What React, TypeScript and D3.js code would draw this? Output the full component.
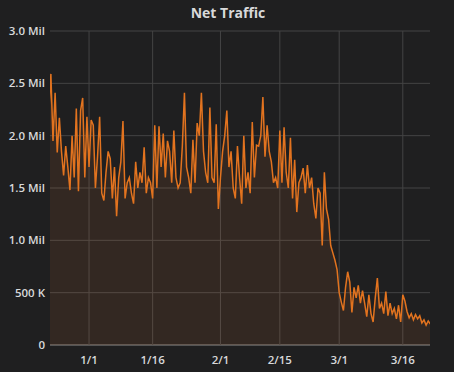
import React, { useEffect, useRef } from 'react';
import * as d3 from 'd3';

// net traffic samples, 12h apart, one array per half month
const decValues = [2.2, 2.59, 1.95, 2.41, 1.84, 2.17, 1.85, 1.62, 1.9, 1.7, 1.48, 2.0, 1.6, 2.26, 1.47, 2.24, 2.36, 1.6, 2.18];
const janAValues = [1.7, 2.15, 2.1, 1.5, 1.8, 2.18, 1.45, 1.38, 1.65, 1.85, 1.78, 1.4, 1.7, 1.23, 1.6, 1.75, 2.14, 1.4, 1.55, 1.6, 1.45, 1.35, 1.75, 1.5, 1.65, 1.55, 1.89, 1.45, 1.6, 1.55];
const janBValues = [1.4, 2.1, 1.5, 2.09, 1.7, 2.02, 1.6, 1.95, 1.85, 1.55, 2.05, 1.6, 1.5, 1.55, 1.9, 2.41, 1.7, 1.6, 1.45, 1.96, 1.55, 2.12, 2.0, 2.41, 1.85, 1.65, 1.55, 2.27, 1.6, 1.55, 2.11, 1.3];
const febAValues = [1.6, 1.85, 2.0, 2.24, 1.7, 1.85, 1.5, 1.4, 1.9, 1.6, 1.35, 2.0, 1.5, 1.65, 1.45, 2.13, 1.6, 1.91, 1.9, 2.0, 2.37, 1.8, 2.1, 1.85, 1.75, 1.55, 1.6, 1.5];
const febBValues = [2.05, 1.55, 2.08, 1.65, 1.5, 1.98, 1.4, 1.77, 1.27, 1.55, 1.6, 1.69, 1.45, 1.72, 1.5, 1.6, 1.35, 1.21, 1.5, 1.45, 0.95, 1.65, 1.3, 1.2, 0.95, 0.88, 0.81, 0.72];
const marAValues = [0.5, 0.41, 0.33, 0.55, 0.7, 0.6, 0.31, 0.55, 0.45, 0.57, 0.4, 0.52, 0.4, 0.27, 0.48, 0.3, 0.22, 0.45, 0.64, 0.35, 0.4, 0.3, 0.51, 0.28, 0.4, 0.3, 0.35, 0.25, 0.38, 0.22];
const marBValues = [0.48, 0.42, 0.32, 0.26, 0.3, 0.24, 0.29, 0.25, 0.28, 0.21, 0.24, 0.19, 0.23, 0.2];

const segments: [Date, number[]][] = [
  [new Date(2014, 11, 22, 12), decValues],
  [new Date(2015, 0, 1), janAValues],
  [new Date(2015, 0, 16), janBValues],
  [new Date(2015, 1, 1), febAValues],
  [new Date(2015, 1, 15), febBValues],
  [new Date(2015, 2, 1), marAValues],
  [new Date(2015, 2, 16), marBValues],
];

const xTicks = [new Date(2015, 0, 1), new Date(2015, 0, 16), new Date(2015, 1, 1), new Date(2015, 1, 15), new Date(2015, 2, 1), new Date(2015, 2, 16)];
const yTicks = [0, 500000, 1000000, 1500000, 2000000, 2500000, 3000000];
const yTickLabels = ['0', '500 K', '1.0 Mil', '1.5 Mil', '2.0 Mil', '2.5 Mil', '3.0 Mil'];

const width = 454;
const height = 372;

const App = () => {
  const svgRef = useRef<SVGSVGElement>(null);

  useEffect(() => {
    const svg = d3.select(svgRef.current);
    svg.selectAll('*').remove();

    const margin = { left: 50, right: 24, top: 31, bottom: 27 };
    const x = d3.scaleTime()
      .domain([new Date(2014, 11, 22, 19), new Date(2015, 2, 22, 10)])
      .range([margin.left, width - margin.right]);
    const y = d3.scaleLinear()
      .domain([0, 3000000])
      .range([height - margin.bottom, margin.top]);

    const data: { t: Date; v: number }[] = [];
    segments.forEach(([start, vals]) => {
      vals.forEach((v, i) => {
        data.push({ t: new Date(start.getTime() + i * 12 * 3600 * 1000), v: v * 1000000 });
      });
    });

    svg.append('rect').attr('width', width).attr('height', height).attr('fill', '#1f1f20');

    svg.append('text')
      .attr('x', 228)
      .attr('y', 18)
      .attr('text-anchor', 'middle')
      .attr('fill', '#d8d9da')
      .style('font-family', 'Open Sans')
      .style('font-size', '14px')
      .style('font-weight', 'bold')
      .text('Net Traffic');

    svg.append('defs').append('clipPath').attr('id', 'plot')
      .append('rect')
      .attr('x', margin.left)
      .attr('y', margin.top)
      .attr('width', width - margin.left - margin.right)
      .attr('height', height - margin.top - margin.bottom);

    // grid
    const grid = svg.append('g');
    yTicks.forEach(t => {
      grid.append('line')
        .attr('x1', margin.left).attr('x2', width - margin.right)
        .attr('y1', y(t)).attr('y2', y(t))
        .attr('stroke', t === 0 ? '#555' : '#444')
        .attr('stroke-width', t === 0 ? 2 : 1);
    });
    xTicks.forEach(t => {
      grid.append('line')
        .attr('x1', x(t)).attr('x2', x(t))
        .attr('y1', margin.top).attr('y2', height - margin.bottom)
        .attr('stroke', '#444');
    });

    const plot = svg.append('g').attr('clip-path', 'url(#plot)');
    plot.append('path')
      .datum(data)
      .attr('d', d3.area<{ t: Date; v: number }>().x(d => x(d.t)).y0(y(0)).y1(d => y(d.v)))
      .attr('fill', '#EF843C')
      .attr('fill-opacity', 0.1);
    plot.append('path')
      .datum(data)
      .attr('d', d3.line<{ t: Date; v: number }>().x(d => x(d.t)).y(d => y(d.v)))
      .attr('fill', 'none')
      .attr('stroke', '#e2731f')
      .attr('stroke-width', 1.5);

    // axis labels
    yTicks.forEach((t, i) => {
      svg.append('text')
        .attr('x', 45)
        .attr('y', y(t) + 4)
        .attr('text-anchor', 'end')
        .attr('fill', '#d8d9da')
        .style('font-family', 'Open Sans')
        .style('font-size', '11.5px')
        .style('font-weight', '600')
        .text(yTickLabels[i]);
    });
    const fmt = d3.timeFormat('%-m/%-d');
    xTicks.forEach(t => {
      svg.append('text')
        .attr('x', x(t))
        .attr('y', 364)
        .attr('text-anchor', 'middle')
        .attr('fill', '#d8d9da')
        .style('font-family', 'Open Sans')
        .style('font-size', '11.5px')
        .style('font-weight', '600')
        .text(fmt(t));
    });
  }, []);

  return (
    <div style={{ position: 'fixed', left: 0, top: 0 }}>
      <svg ref={svgRef} width={width} height={height} style={{ display: 'block' }}></svg>
    </div>
  );
};

export default App;
